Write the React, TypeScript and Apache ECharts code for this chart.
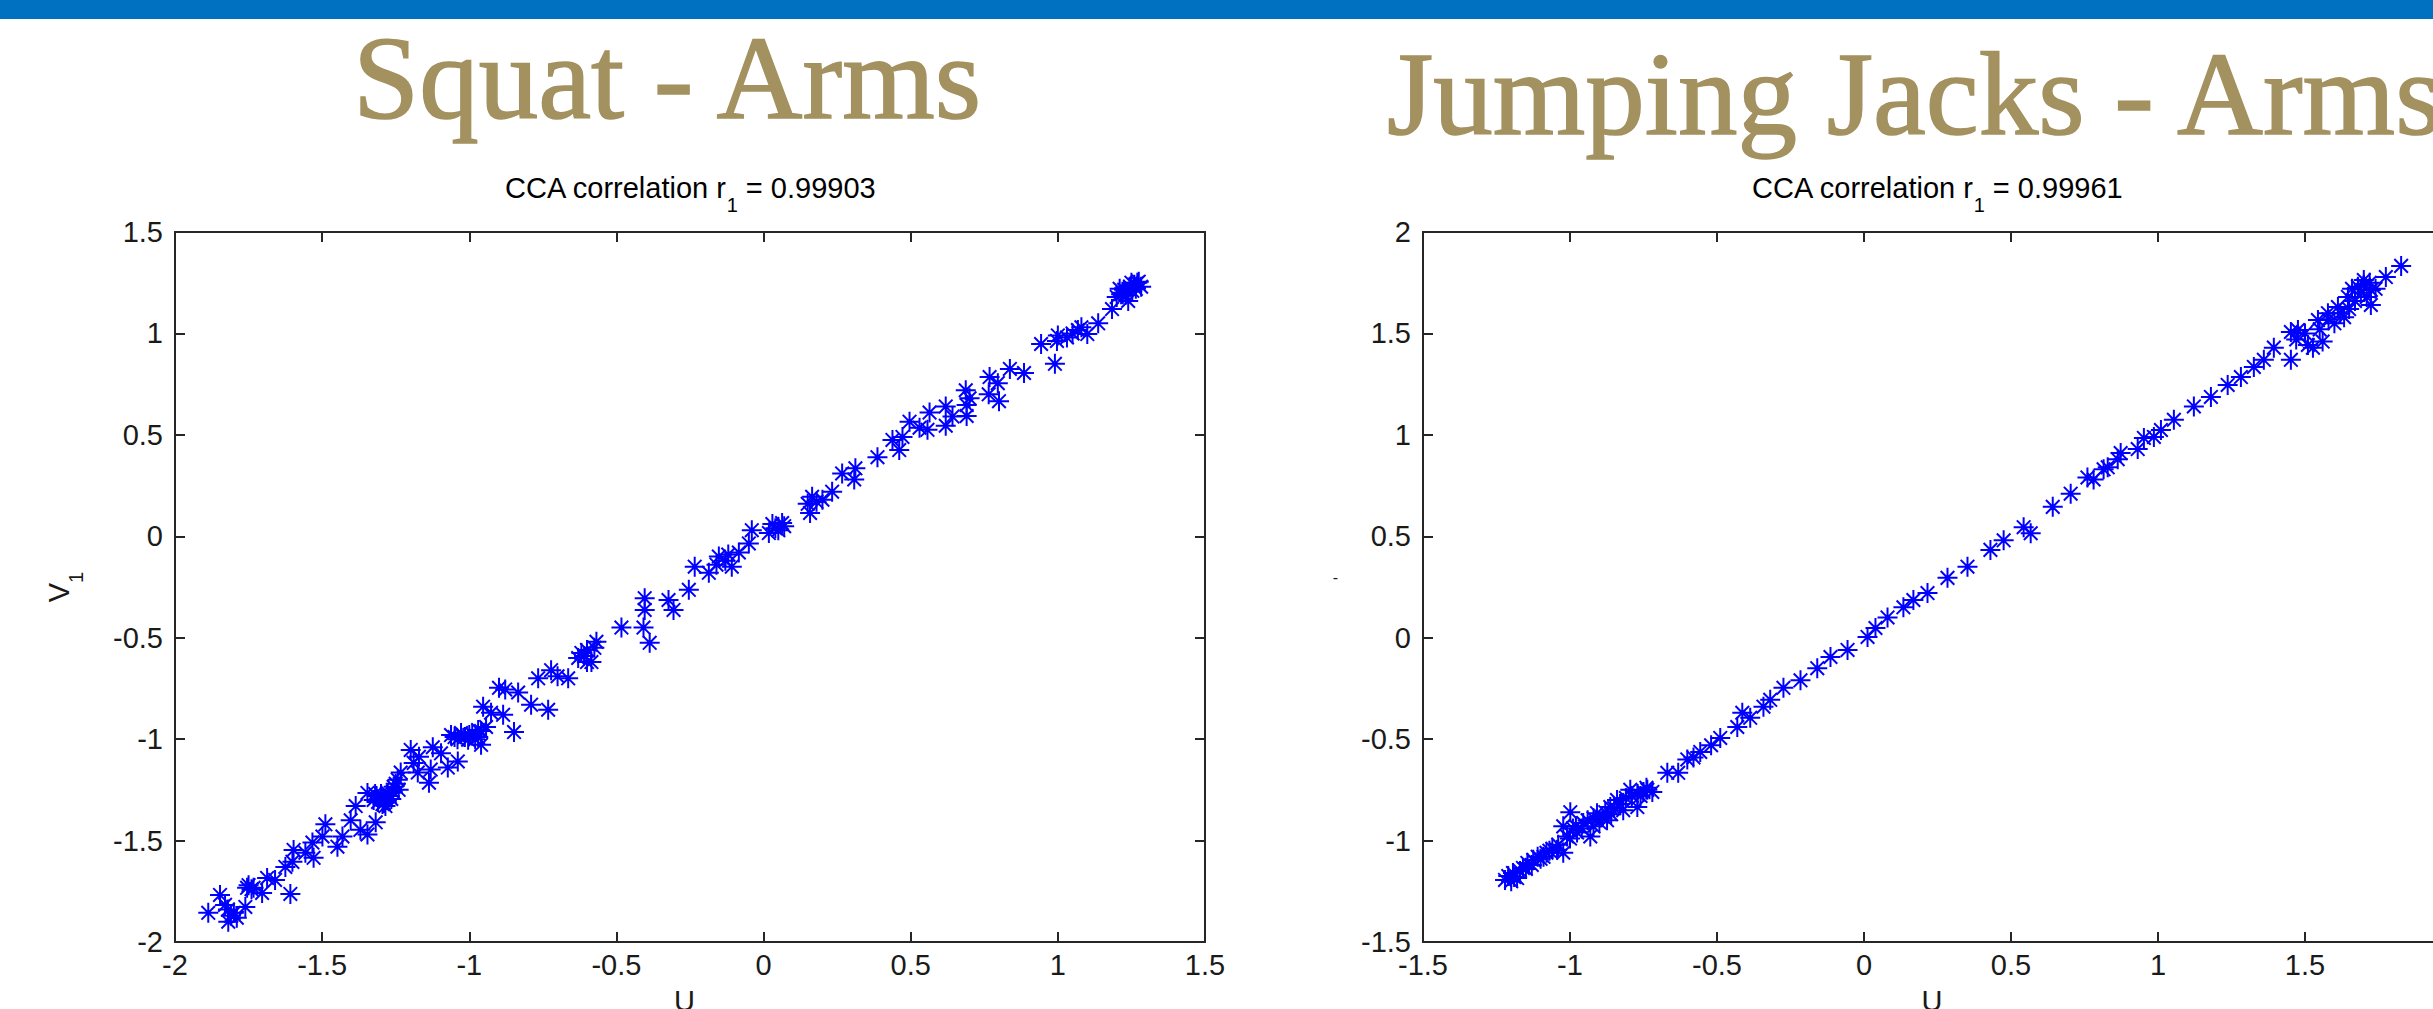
import React, { useEffect, useRef } from "react";
import * as echarts from "echarts";

// ---- Data ----
const panelTitles = ["Squat - Arms", "Jumping Jacks - Arms"];
const corrValues = ["0.99903", "0.99961"];

// Squat - Arms : canonical variates U1 (x) and V1 (y)
const squatU = [
  -1.887, -1.847, -1.83, -1.819, -1.8, -1.79, -1.761, -1.755, -1.733, -1.704,
  -1.687, -1.66, -1.625, -1.608, -1.601, -1.597, -1.557, -1.533, -1.529, -1.499,
  -1.489, -1.448, -1.431, -1.403, -1.386, -1.37, -1.346, -1.318, -1.346, -1.325,
  -1.315, -1.301, -1.295, -1.29, -1.28, -1.277, -1.265, -1.257, -1.243, -1.233,
  -1.199, -1.189, -1.175, -1.171, -1.137, -1.131, -1.124, -1.096, -1.073, -1.062,
  -1.039, -1.028, -1.015, -1.004, -0.99, -0.97, -0.96, -0.953, -0.943, -0.926,
  -0.899, -0.885, -0.878, -0.848, -0.834, -0.79, -0.766, -0.732, -0.722, -0.7,
  -0.664, -0.619, -0.6, -0.585, -0.568, -0.483, -0.408, -0.404, -0.404, -0.387,
  -0.323, -0.306, -0.254, -0.234, -0.186, -0.152, -0.108, -0.084, -0.05, -0.04,
  0.018, 0.04, 0.063, 0.158, 0.165, 0.233, 0.267, 0.308, 0.312, 0.387,
  0.438, 0.461, 0.472, 0.496, 0.53, 0.557, 0.564, 0.619, 0.619, 0.642,
  0.687, 0.69, 0.7, 0.69, 0.765, 0.768, 0.796, 0.8, 0.837, 0.885,
  0.943, 0.99, 0.997, 1.031, 1.068, 1.1, 1.137, 1.184, 1.2, 1.215,
  1.225, 1.239, 1.253, 1.26, 1.283, 1.27,
];
const squatV = [
  -1.856, -1.768, -1.817, -1.9, -1.856, -1.88, -1.827, -1.733, -1.733, -1.758,
  -1.684, -1.694, -1.63, -1.763, -1.605, -1.546, -1.56, -1.51, -1.585, -1.48,
  -1.42, -1.53, -1.48, -1.4, -1.33, -1.447, -1.47, -1.41, -1.265, -1.3,
  -1.28, -1.285, -1.32, -1.315, -1.3, -1.265, -1.295, -1.235, -1.2, -1.165,
  -1.053, -1.117, -1.165, -1.087, -1.215, -1.15, -1.04, -1.07, -1.14, -0.98,
  -1.11, -0.97, -0.99, -1.003, -0.975, -0.955, -1.028, -0.84, -0.94, -0.87,
  -0.747, -0.88, -0.755, -0.965, -0.77, -0.83, -0.7, -0.855, -0.66, -0.69,
  -0.7, -0.575, -0.56, -0.62, -0.52, -0.45, -0.45, -0.305, -0.363, -0.525,
  -0.314, -0.363, -0.264, -0.15, -0.18, -0.1, -0.15, -0.08, -0.035, 0.03,
  0.016, 0.04, 0.065, 0.115, 0.195, 0.22, 0.31, 0.28, 0.335, 0.39,
  0.475, 0.425, 0.49, 0.565, 0.535, 0.525, 0.61, 0.64, 0.545, 0.59,
  0.72, 0.647, 0.68, 0.593, 0.7, 0.785, 0.755, 0.666, 0.825, 0.805,
  0.948, 0.85, 0.963, 0.98, 1.017, 0.997, 1.05, 1.12, 1.18, 1.193,
  1.215, 1.16, 1.21, 1.24, 1.23, 1.25,
];
// denser clumps of the squat cloud
const squatClumpU = [
  -1.82, -1.81, -1.74, -1.75, -1.31, -1.3, -1.285, -1.27, -1.26, -1.25,
  -1.24, -1.32, -1.05, -1.04, -1.0, -0.98, -0.97, -0.96, -0.63, -0.61,
  -0.6, -0.575, -0.16, -0.13, -0.12, 0.03, 0.05, 0.07, 0.15, 0.18,
  0.2, 1.0, 1.05, 1.08, 1.21, 1.22, 1.23, 1.245, 1.25, 1.265, 1.275,
];
const squatClumpV = [
  -1.84, -1.87, -1.74, -1.72, -1.31, -1.27, -1.33, -1.28, -1.26, -1.22,
  -1.25, -1.27, -0.99, -1.0, -0.98, -1.0, -0.99, -0.96, -0.6, -0.59,
  -0.62, -0.55, -0.14, -0.12, -0.09, 0.06, 0.03, 0.05, 0.16, 0.17,
  0.18, 0.99, 1.0, 1.03, 1.22, 1.2, 1.19, 1.23, 1.25, 1.22, 1.255,
];

// Jumping Jacks - Arms
const jacksU = [
  -1.221, -1.21, -1.194, -1.18, -1.16, -1.145, -1.125, -1.11, -1.09, -1.07,
  -1.044, -1.023, -1.023, -1.01, -0.999, -0.99, -0.976, -0.955, -0.931, -0.92,
  -0.908, -0.89, -0.874, -0.863, -0.84, -0.819, -0.795, -0.771, -0.76, -0.737,
  -0.72, -0.669, -0.632, -0.601, -0.58, -0.557, -0.52, -0.489, -0.431, -0.414,
  -0.387, -0.342, -0.319, -0.274, -0.216, -0.159, -0.114, -0.056, 0.012, 0.039,
  0.08, 0.134, 0.168, 0.216, 0.284, 0.352, 0.43, 0.475, 0.543, 0.567,
  0.642, 0.703, 0.76, 0.781, 0.815, 0.829, 0.863, 0.873, 0.931, 0.952,
  0.986, 1.01, 1.054, 1.122, 1.18, 1.237, 1.282, 1.326, 1.36, 1.394,
  1.452, 1.452, 1.476, 1.51, 1.527, 1.544, 1.578, 1.612, 1.633, 1.646,
  1.68, 1.7, 1.724, 1.724, 1.775, 1.827,
];
const jacksV = [
  -1.194, -1.175, -1.16, -1.185, -1.135, -1.11, -1.095, -1.08, -1.08, -1.05,
  -1.045, -1.06, -0.93, -0.98, -0.86, -0.94, -0.96, -0.913, -0.98, -0.93,
  -0.865, -0.88, -0.9, -0.835, -0.8, -0.85, -0.75, -0.835, -0.78, -0.75,
  -0.76, -0.666, -0.666, -0.6, -0.59, -0.563, -0.53, -0.494, -0.44, -0.37,
  -0.395, -0.34, -0.306, -0.247, -0.21, -0.15, -0.095, -0.06, 0.004, 0.048,
  0.1, 0.15, 0.186, 0.22, 0.295, 0.35, 0.433, 0.48, 0.545, 0.515,
  0.645, 0.71, 0.79, 0.78, 0.83, 0.84, 0.88, 0.91, 0.93, 0.985,
  0.99, 1.024, 1.074, 1.14, 1.187, 1.246, 1.285, 1.335, 1.37, 1.43,
  1.37, 1.507, 1.517, 1.443, 1.43, 1.566, 1.6, 1.63, 1.58, 1.68,
  1.73, 1.763, 1.714, 1.64, 1.778, 1.833,
];
// denser clumps of the jumping-jacks cloud
const jacksClumpU = [
  -1.2, -1.19, -1.17, -1.15, -1.13, -1.1, -1.08, -1.06, -1.04, -1.0,
  -0.98, -0.96, -0.94, -0.92, -0.9, -0.88, -0.86, -0.85, -0.83, -0.81,
  -0.79, -0.77, -0.75, -0.74, 1.47, 1.5, 1.55, 1.56, 1.58, 1.6,
  1.62, 1.65, 1.66, 1.67, 1.69, 1.7, 1.71, 1.72, 1.74,
];
const jacksClumpV = [
  -1.2, -1.18, -1.15, -1.14, -1.12, -1.09, -1.06, -1.04, -1.02, -0.99,
  -0.93, -0.94, -0.9, -0.89, -0.91, -0.86, -0.87, -0.84, -0.82, -0.79,
  -0.78, -0.77, -0.76, -0.74, 1.47, 1.5, 1.52, 1.46, 1.57, 1.55,
  1.6, 1.62, 1.72, 1.66, 1.7, 1.74, 1.68, 1.75, 1.72,
];

// Axis ranges / ticks
const squatRange = { min: -2, max: 1.5, interval: 0.5 };
const jacksRange = { min: -1.5, max: 2, interval: 0.5 };

// ---- Styling ----
const SANS = "'Liberation Sans', Arial, sans-serif";
const SERIF = "'Liberation Serif', 'Times New Roman', serif";
const INK = "#1a1a1a";
const AXIS = "#262626";
const GOLD = "#A3915F";
const BLUE = "#0000FF";
const STAR = "path://M0 5L10 5M5 0L5 10M1.6 1.6L8.4 8.4M1.6 8.4L8.4 1.6";

const subRich = {
  m: { fontSize: 29, fontFamily: SANS, color: INK, lineHeight: 34 },
  s: { fontSize: 20, fontFamily: SANS, color: INK, lineHeight: 34, padding: [34, 0, 0, 0] },
};

function zip(a: number[], b: number[]) {
  return a.map((v, i) => [v, b[i]]);
}

function baseAxis(range: { min: number; max: number; interval: number }, gridIndex: number) {
  return {
    type: "value",
    gridIndex,
    min: range.min,
    max: range.max,
    interval: range.interval,
    splitLine: { show: false },
    axisLine: { show: true, onZero: false, lineStyle: { color: AXIS, width: 2 } },
    axisTick: { show: true, inside: true, length: 10, lineStyle: { color: AXIS, width: 2 } },
  };
}

const tickLabel = { color: INK, fontSize: 29, fontFamily: SANS };

const starSeries = (xi: number, yi: number, data: number[][]) => ({
  type: "scatter",
  xAxisIndex: xi,
  yAxisIndex: yi,
  data,
  symbol: STAR,
  symbolSize: 20,
  itemStyle: { color: BLUE, borderColor: BLUE, borderWidth: 2, opacity: 1 },
  silent: true,
});

export default function App() {
  const ref = useRef<HTMLDivElement>(null);

  useEffect(() => {
    if (!ref.current) return;
    const chart = echarts.init(ref.current, undefined, { renderer: "svg" });

    const option = {
      animation: false,
      backgroundColor: "#ffffff",
      grid: [
        { left: 175, top: 232, width: 1030, height: 710, show: true, borderColor: AXIS, borderWidth: 2, containLabel: false, outerBoundsMode: "none" },
        { left: 1423, top: 232, width: 1029, height: 710, show: true, borderColor: AXIS, borderWidth: 2, containLabel: false, outerBoundsMode: "none" },
      ],
      xAxis: [
        {
          ...baseAxis(squatRange, 0),
          position: "bottom",
          axisLabel: { ...tickLabel, margin: 8 },
          name: "{m|U}{s|1}",
          nameLocation: "middle",
          nameGap: 42,
          nameMoveOverlap: false,
          nameTextStyle: { rich: subRich },
        },
        { ...baseAxis(squatRange, 0), position: "top", axisLabel: { show: false } },
        {
          ...baseAxis(jacksRange, 1),
          position: "bottom",
          axisLabel: { ...tickLabel, margin: 8 },
          name: "{m|U}{s|1}",
          nameLocation: "middle",
          nameGap: 42,
          nameMoveOverlap: false,
          nameTextStyle: { rich: subRich },
        },
        { ...baseAxis(jacksRange, 1), position: "top", axisLabel: { show: false } },
      ],
      yAxis: [
        {
          ...baseAxis(squatRange, 0),
          position: "left",
          axisLabel: { ...tickLabel, margin: 12 },
          name: "{m|V}{s|1}",
          nameLocation: "middle",
          nameGap: 99,
          nameMoveOverlap: false,
          nameTextStyle: { rich: subRich },
        },
        { ...baseAxis(squatRange, 0), position: "right", axisLabel: { show: false } },
        {
          ...baseAxis(jacksRange, 1),
          position: "left",
          axisLabel: { ...tickLabel, margin: 12 },
        },
        { ...baseAxis(jacksRange, 1), position: "right", axisLabel: { show: false } },
      ],
      graphic: [
        { type: "rect", left: 0, top: 0, shape: { x: 0, y: 0, width: 2433, height: 19 }, style: { fill: "#0070C0" } },
        {
          type: "text",
          x: 667,
          y: 78,
          style: { text: panelTitles[0], font: `119px ${SERIF}`, fill: GOLD, stroke: GOLD, lineWidth: 1.5, align: "center", verticalAlign: "middle" },
        },
        {
          type: "text",
          x: 1387,
          y: 94,
          style: { text: panelTitles[1], font: `119px ${SERIF}`, fill: GOLD, stroke: GOLD, lineWidth: 1.5, align: "left", verticalAlign: "middle" },
        },
        {
          type: "text",
          x: 690,
          y: 188,
          style: {
            text: `{m|CCA correlation r}{s|1}{m| = ${corrValues[0]}}`,
            rich: subRich,
            align: "center",
            verticalAlign: "middle",
          },
        },
        {
          type: "text",
          x: 1937,
          y: 188,
          style: {
            text: `{m|CCA correlation r}{s|1}{m| = ${corrValues[1]}}`,
            rich: subRich,
            align: "center",
            verticalAlign: "middle",
          },
        },
        {
          type: "text",
          x: 1338,
          y: 577,
          style: { text: "-", font: `16px ${SANS}`, fill: INK, align: "right", verticalAlign: "middle" },
        },
      ],
      series: [
        starSeries(0, 0, zip(squatU, squatV)),
        starSeries(0, 0, zip(squatClumpU, squatClumpV)),
        starSeries(2, 2, zip(jacksU, jacksV)),
        starSeries(2, 2, zip(jacksClumpU, jacksClumpV)),
      ],
    };

    chart.setOption(option as any);
    return () => chart.dispose();
  }, []);

  return (
    <div
      ref={ref}
      style={{ position: "fixed", left: 0, top: 0, width: 2433, height: 1009, background: "#fff" }}
    />
  );
}
